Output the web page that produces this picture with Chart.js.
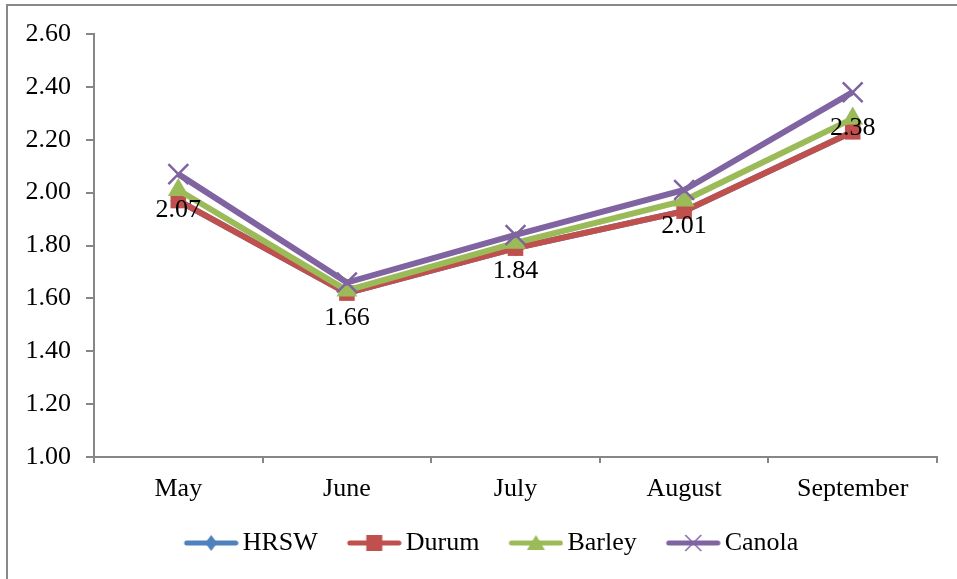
<!DOCTYPE html>
<html>
<head>
<meta charset="utf-8">
<script src="https://cdn.jsdelivr.net/npm/chart.js@4.4.1/dist/chart.umd.min.js"></script>
<style>
  html, body { margin:0; padding:0; background:#fff; }
  #wrap { position:relative; width:957px; height:579px; overflow:hidden; }
  #frame { position:absolute; left:6px; top:4px; width:1000px; height:700px; border-left:2px solid #888; border-top:2px solid #888; box-sizing:border-box; }
  canvas { position:absolute; left:0; top:0; }
</style>
</head>
<body>
<div id="wrap">
  <div id="frame"></div>
  <canvas id="c" width="957" height="579"></canvas>
</div>
<script>
const categories = ['May', 'June', 'July', 'August', 'September'];
const hrswValues = [1.97, 1.62, 1.79, 1.93, 2.23];
const durumValues = [1.97, 1.62, 1.79, 1.93, 2.23];
const barleyValues = [2.01, 1.63, 1.81, 1.97, 2.28];
const canolaValues = [2.07, 1.66, 1.84, 2.01, 2.38];
const seriesNames = ['HRSW', 'Durum', 'Barley', 'Canola'];
const yMin = 1.0, yMax = 2.6, yStep = 0.2;

const FONT = '"Liberation Serif", "Times New Roman", serif';
const colors = ['#4F81BD', '#C0504D', '#9BBB59', '#8064A2'];
const styles = ['rectRot', 'rect', 'triangle', 'crossRot'];
const radii = [8, 11, 12, 14];

// legend sample: 55px line + marker, right-aligned in a wider transparent image
function legendImage(i) {
  const W = 67, H = 22, L = 55;
  const cv = document.createElement('canvas');
  cv.width = W; cv.height = H;
  const ctx = cv.getContext('2d');
  ctx.strokeStyle = colors[i];
  ctx.fillStyle = colors[i];
  ctx.lineWidth = 5;
  ctx.lineCap = 'round';
  const x0 = W - L + 3, x1 = W - 3;
  ctx.beginPath(); ctx.moveTo(x0, 11); ctx.lineTo(x1, 11); ctx.stroke();
  const cx = (x0 + x1) / 2, cy = 11;
  ctx.beginPath();
  if (i === 0) { ctx.moveTo(cx, cy - 8); ctx.lineTo(cx + 6, cy); ctx.lineTo(cx, cy + 8); ctx.lineTo(cx - 6, cy); ctx.closePath(); ctx.fill(); }
  else if (i === 1) { ctx.rect(cx - 8, cy - 8, 16, 16); ctx.fill(); }
  else if (i === 2) { ctx.moveTo(cx, cy - 8); ctx.lineTo(cx + 9, cy + 7); ctx.lineTo(cx - 9, cy + 7); ctx.closePath(); ctx.fill(); }
  else { ctx.lineWidth = 1.5; ctx.lineCap = 'butt'; ctx.moveTo(cx - 8, cy - 8); ctx.lineTo(cx + 8, cy + 8); ctx.moveTo(cx + 8, cy - 8); ctx.lineTo(cx - 8, cy + 8); ctx.stroke(); }
  return cv;
}

const allValues = [hrswValues, durumValues, barleyValues, canolaValues];
const datasets = allValues.map((vals, i) => ({
  label: seriesNames[i],
  data: vals,
  borderColor: colors[i],
  backgroundColor: colors[i],
  borderWidth: 6,
  pointStyle: styles[i],
  pointRadius: radii[i],
  pointBorderWidth: i === 3 ? 2.5 : 0,
  pointBorderColor: colors[i],
  pointBackgroundColor: colors[i],
  tension: 0,
  order: 4 - i,
  legendImg: legendImage(i)
}));

const labelPlugin = {
  id: 'canolaLabels',
  afterLayout(chart) {
    // nudge legend block to the right, as in the reference
    if (chart.legend) { chart.legend.left += 21; chart.legend.right += 21; }
  },
  afterDatasetsDraw(chart) {
    const idx = 3;
    const meta = chart.getDatasetMeta(idx);
    const ctx = chart.ctx;
    ctx.save();
    ctx.font = '26px ' + FONT;
    ctx.fillStyle = '#000';
    ctx.textAlign = 'center';
    ctx.textBaseline = 'middle';
    meta.data.forEach((pt, j) => {
      ctx.fillText(canolaValues[j].toFixed(2), pt.x, pt.y + 36);
    });
    ctx.restore();
  }
};

new Chart(document.getElementById('c'), {
  type: 'line',
  data: { labels: categories, datasets: datasets },
  plugins: [labelPlugin],
  options: {
    responsive: false,
    animation: false,
    devicePixelRatio: 1,
    layout: { padding: { top: 34, right: 20, left: 0, bottom: 13 } },
    plugins: {
      tooltip: { enabled: false },
      legend: {
        position: 'bottom',
        labels: {
          usePointStyle: true,
          pointStyleWidth: 49,
          boxHeight: 22,
          padding: 26,
          color: '#000',
          font: { family: FONT, size: 26 },
          generateLabels(chart) {
            return chart.data.datasets.map((ds, i) => ({
              text: ds.label,
              pointStyle: ds.legendImg,
              fillStyle: ds.borderColor,
              strokeStyle: ds.borderColor,
              lineWidth: 0,
              hidden: false,
              datasetIndex: i,
              fontColor: '#000'
            }));
          }
        }
      }
    },
    scales: {
      x: {
        offset: true,
        grid: { offset: true, drawOnChartArea: false, drawTicks: true, tickLength: 6, color: '#868686', lineWidth: 2 },
        border: { display: true, color: '#868686', width: 2 },
        ticks: { color: '#000', font: { family: FONT, size: 26 }, padding: 11 },
        afterFit(scale) { scale.height = 47; }
      },
      y: {
        min: yMin, max: yMax,
        grid: { drawOnChartArea: false, drawTicks: true, tickLength: 8, color: '#868686', lineWidth: 2 },
        border: { display: true, color: '#868686', width: 2 },
        ticks: { stepSize: yStep, color: '#000', font: { family: FONT, size: 26 }, padding: 15,
                 callback: v => Number(v).toFixed(2) },
        afterFit(scale) { scale.width = 94; }
      }
    }
  }
});
</script>
</body>
</html>
